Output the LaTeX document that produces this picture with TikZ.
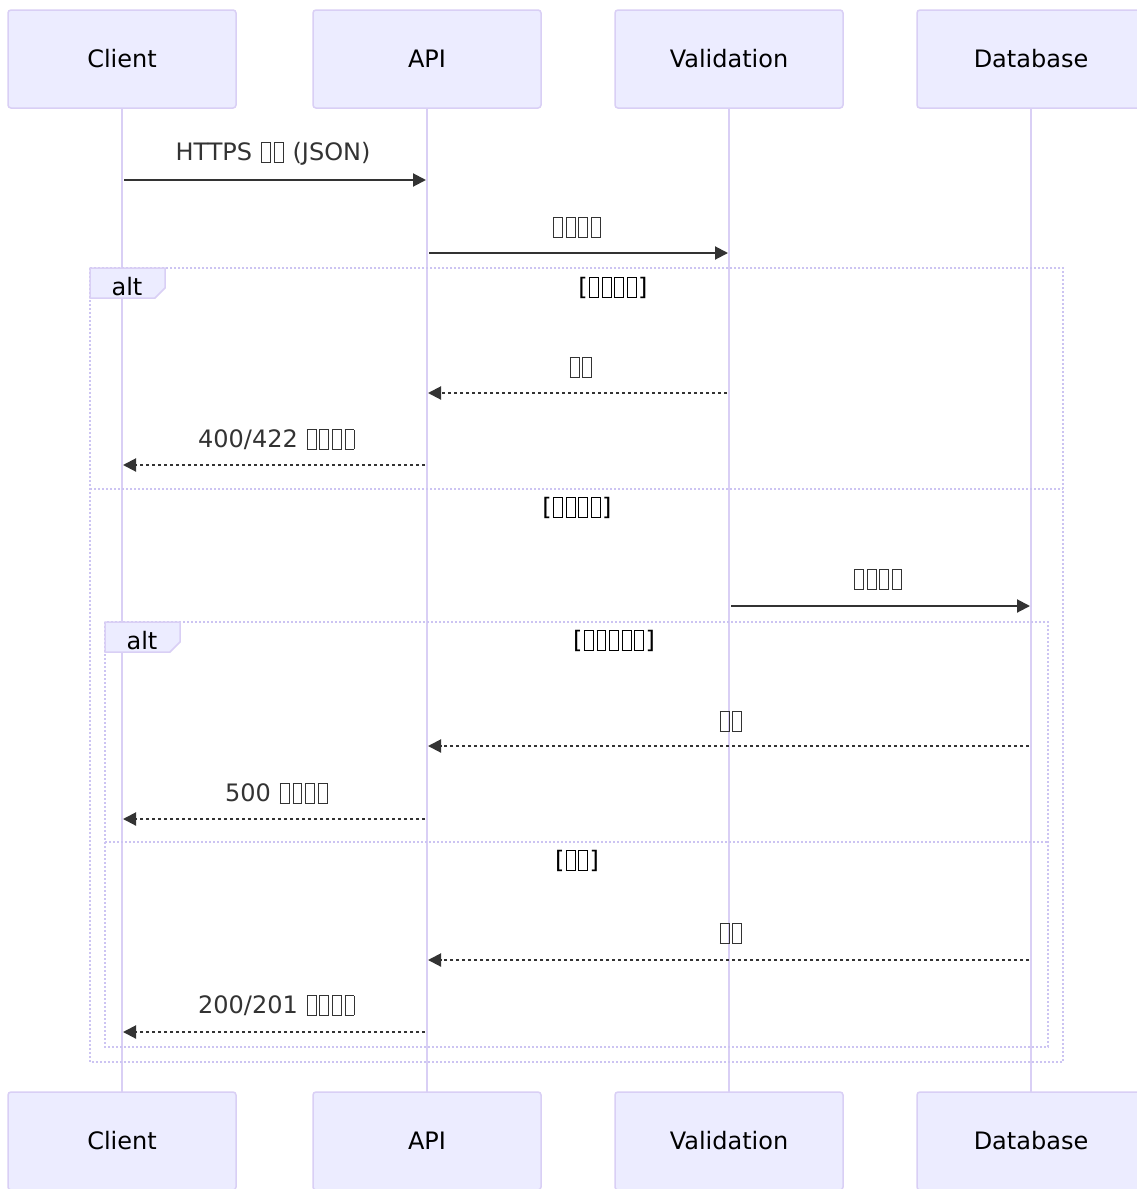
\documentclass[tikz,border=0pt]{standalone}
\usepackage{fontspec}
\setmainfont{DejaVu Sans}
\usetikzlibrary{arrows.meta}
\definecolor{actorfill}{HTML}{ECECFF}
\definecolor{lav}{HTML}{D9CFF5}
\definecolor{framecol}{HTML}{CCC4F2}
\definecolor{ink}{HTML}{333333}
\newcommand{\tofu}{\kern1.4pt{\setlength{\fboxsep}{0pt}\setlength{\fboxrule}{0.9pt}\raisebox{-1.5pt}{\fbox{\rule{0pt}{18.5pt}\rule{8pt}{0pt}}}}\kern1.4pt}
\begin{document}
\begin{tikzpicture}[x=1pt,y=-1pt,
  actorbox/.style={draw=lav,line width=1.5pt,fill=actorfill,rounded corners=3pt,minimum width=228pt,minimum height=98pt,inner sep=0pt,text=black,font=\fontsize{24}{28}\selectfont},
  lifeline/.style={draw=lav,line width=2pt},
  msgsolid/.style={draw=ink,line width=2pt,-{Triangle[length=13pt,width=13pt]}},
  msgdash/.style={draw=ink,line width=2pt,dash pattern=on 3pt off 3pt,-{Triangle[length=13pt,width=13pt]}},
  msglabel/.style={text=ink,font=\fontsize{24}{28}\selectfont,inner sep=0pt,anchor=base},
  framestyle/.style={draw=framecol,line width=2pt,dash pattern=on 2pt off 2pt},
  altlabel/.style={draw=lav,line width=1.5pt,fill=actorfill}
]
\useasboundingbox (0,0) rectangle (1137,1189);
\fill[white] (0,0) rectangle (1137,1189);

% actors
\node[actorbox] (clientT) at (122,59) {Client};
\node[actorbox] (apiT) at (427,59) {API};
\node[actorbox] (valT) at (729,59) {Validation};
\node[actorbox] (dbT) at (1031,59) {Database};

% lifelines
\coordinate (lifeEnd) at (0,1092);
\draw[lifeline] (clientT.south) -- (clientT.south |- lifeEnd);
\draw[lifeline] (apiT.south) -- (apiT.south |- lifeEnd);
\draw[lifeline] (valT.south) -- (valT.south |- lifeEnd);
\draw[lifeline] (dbT.south) -- (dbT.south |- lifeEnd);

\node[actorbox] (clientB) at (122,1141) {Client};
\node[actorbox] (apiB) at (427,1141) {API};
\node[actorbox] (valB) at (729,1141) {Validation};
\node[actorbox] (dbB) at (1031,1141) {Database};

% frames
\draw[framestyle] (90,268) rectangle (1063,1062);
\draw[framestyle] (90,489) -- (1063,489);
\draw[altlabel] (90,268) -- (165,268) -- (165,288) -- (155,298) -- (90,298) -- cycle;
\node[msglabel,text=black] (alt1) at (127,295) {alt};
\node[msglabel,text=black] (cond1) at (613,295) {[\tofu\tofu\tofu\tofu]};
\node[msglabel,text=black] (cond2) at (577,515) {[\tofu\tofu\tofu\tofu]};

\draw[framestyle] (105,622) rectangle (1048,1047);
\draw[framestyle] (105,842) -- (1048,842);
\draw[altlabel] (105,622) -- (180,622) -- (180,642) -- (170,652) -- (105,652) -- cycle;
\node[msglabel,text=black] (alt2) at (142,649) {alt};
\node[msglabel,text=black] (cond3) at (614,648) {[\tofu\tofu\tofu\tofu\tofu]};
\node[msglabel,text=black] (cond4) at (577,868) {[\tofu\tofu]};

% message rows
\coordinate (r1) at (0,180);
\coordinate (r2) at (0,253);
\coordinate (r3) at (0,393);
\coordinate (r4) at (0,465);
\coordinate (r5) at (0,606);
\coordinate (r6) at (0,746);
\coordinate (r7) at (0,819);
\coordinate (r8) at (0,960);
\coordinate (r9) at (0,1032);

\draw[msgsolid] ([xshift=2pt]clientT.south |- r1) -- ([xshift=-1pt]apiT.south |- r1);
\node[msglabel] (l1) at (273,160) {HTTPS \tofu\tofu\ (JSON)};

\draw[msgsolid] ([xshift=2pt]apiT.south |- r2) -- ([xshift=-1pt]valT.south |- r2);
\node[msglabel] (l2) at (577,235) {\tofu\tofu\tofu\tofu};

\draw[msgdash] ([xshift=-2pt]valT.south |- r3) -- ([xshift=1pt]apiT.south |- r3);
\node[msglabel] (l3) at (581,375) {\tofu\tofu};

\draw[msgdash] ([xshift=-2pt]apiT.south |- r4) -- ([xshift=1pt]clientT.south |- r4);
\node[msglabel] (l4) at (277,447) {400/422 \tofu\tofu\tofu\tofu};

\draw[msgsolid] ([xshift=2pt]valT.south |- r5) -- ([xshift=-1pt]dbT.south |- r5);
\node[msglabel] (l5) at (878,587) {\tofu\tofu\tofu\tofu};

\draw[msgdash] ([xshift=-2pt]dbT.south |- r6) -- ([xshift=1pt]apiT.south |- r6);
\node[msglabel] (l6) at (731,729) {\tofu\tofu};

\draw[msgdash] ([xshift=-2pt]apiT.south |- r7) -- ([xshift=1pt]clientT.south |- r7);
\node[msglabel] (l7) at (277,801) {500 \tofu\tofu\tofu\tofu};

\draw[msgdash] ([xshift=-2pt]dbT.south |- r8) -- ([xshift=1pt]apiT.south |- r8);
\node[msglabel] (l8) at (731,941) {\tofu\tofu};

\draw[msgdash] ([xshift=-2pt]apiT.south |- r9) -- ([xshift=1pt]clientT.south |- r9);
\node[msglabel] (l9) at (277,1013) {200/201 \tofu\tofu\tofu\tofu};
\end{tikzpicture}
\end{document}
